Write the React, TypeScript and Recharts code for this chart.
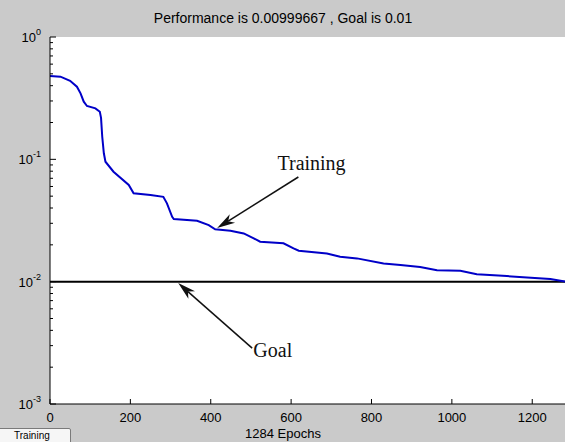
import React from 'react';
import { LineChart, Line, XAxis, YAxis, CartesianGrid, ReferenceLine, ReferenceDot } from 'recharts';

const titleText = 'Performance is 0.00999667 , Goal is 0.01';
const xLabelText = '1284 Epochs';
const seriesName = 'Training';
const goalName = 'Goal';
const goalValue = 0.01;
const totalEpochs = 1284;

const epochs = [0, 26, 50, 67, 76, 84, 92, 113, 124, 127, 130, 134, 138, 158, 196, 208, 250, 282, 291, 304, 308, 366, 395, 411, 449, 482, 507, 523, 581, 606, 619, 689, 722, 764, 830, 872, 921, 963, 1021, 1062, 1137, 1187, 1245, 1284];
const performance = [0.48, 0.474, 0.439, 0.392, 0.346, 0.296, 0.273, 0.261, 0.245, 0.218, 0.153, 0.112, 0.0956, 0.0792, 0.0617, 0.0527, 0.0511, 0.0494, 0.0437, 0.0339, 0.0325, 0.0315, 0.029, 0.0268, 0.0261, 0.0248, 0.0226, 0.0212, 0.0206, 0.0187, 0.0179, 0.017, 0.016, 0.0155, 0.0141, 0.0137, 0.0132, 0.0124, 0.0123, 0.0115, 0.0111, 0.0108, 0.0105, 0.00999667];

const xTicks = [0, 200, 400, 600, 800, 1000, 1200];
const yDecades = [-3, -2, -1];
const yMinorMultipliers = [1, 2, 3, 4, 5, 6, 7, 8, 9];
const yTicks: number[] = [];
yDecades.forEach((d) => yMinorMultipliers.forEach((m) => yTicks.push(parseFloat((m * Math.pow(10, d)).toPrecision(6)))));
yTicks.push(1);

// annotation anchors in data coordinates
const trainingArrow = [{ x: 618, y: 0.0717 }, { x: 416, y: 0.0274 }];
const goalArrow = [{ x: 503, y: 0.00286 }, { x: 319, y: 0.00975 }];
const trainingTextAt = { x: 566, y: 0.0817 };
const goalTextAt = { x: 506, y: 0.00242 };

const data = epochs.map((e, i) => ({ epoch: e, perf: performance[i] }));

const isMajor = (v: number) => {
  const l = Math.log10(v);
  return Math.abs(l - Math.round(l)) < 1e-6;
};

const YTickLeft = (props: any) => {
  const { x, y, payload } = props;
  const v = payload.value;
  const major = isMajor(v);
  const exp = Math.round(Math.log10(v));
  return (
    <g>
      <line x1={x} x2={x + (major ? 6 : 3)} y1={y} y2={y} stroke="#000" />
      {major && (
        <text x={x - 9} y={y + 5} textAnchor="end" fontSize={13} fill="#000" fontFamily="Liberation Sans, Arial, sans-serif">
          10<tspan dy={-7} fontSize={9}>{exp}</tspan>
        </text>
      )}
    </g>
  );
};

const YTickRight = (props: any) => {
  const { x, y, payload } = props;
  const major = isMajor(payload.value);
  return <line x1={x} x2={x - (major ? 6 : 3)} y1={y} y2={y} stroke="#000" />;
};

const XTickBottom = (props: any) => {
  const { x, y, payload } = props;
  return (
    <g>
      <line x1={x} x2={x} y1={y} y2={y - 5} stroke="#000" />
      <text x={x} y={y + 18} textAnchor="middle" fontSize={13} fill="#000" fontFamily="Liberation Sans, Arial, sans-serif">
        {payload.value}
      </text>
    </g>
  );
};

const XTickTop = (props: any) => {
  const { x, y } = props;
  return <line x1={x} x2={x} y1={y} y2={y + 5} stroke="#000" />;
};

const Arrow = (props: any) => {
  const { x1, y1, x2, y2 } = props;
  const dx = x2 - x1;
  const dy = y2 - y1;
  const len = Math.sqrt(dx * dx + dy * dy);
  const ux = dx / len;
  const uy = dy / len;
  const hl = 18;
  const hw = 5;
  const bx = x2 - ux * hl;
  const by = y2 - uy * hl;
  const nx = x2 - ux * (hl - 5);
  const ny = y2 - uy * (hl - 5);
  const p1 = `${x2},${y2}`;
  const p2 = `${bx - uy * hw},${by + ux * hw}`;
  const p3 = `${nx},${ny}`;
  const p4 = `${bx + uy * hw},${by - ux * hw}`;
  return (
    <g>
      <line x1={x1} y1={y1} x2={nx} y2={ny} stroke="#111" strokeWidth={1.5} />
      <polygon points={`${p1} ${p2} ${p3} ${p4}`} fill="#111" />
    </g>
  );
};

const labelShape = (text: string) => (props: any) => (
  <text x={props.cx} y={props.cy} fontSize={20} fill="#111" fontFamily="Liberation Serif, Times New Roman, serif">
    {text}
  </text>
);

export default function App() {
  return (
    <div
      style={{
        position: 'absolute',
        left: 0,
        top: 0,
        width: 565,
        height: 442,
        background: '#cacaca',
        overflow: 'hidden',
        fontFamily: 'Liberation Sans, Arial, sans-serif',
      }}
    >
      <div style={{ position: 'absolute', left: 0, top: 10, width: 566, textAlign: 'center', fontSize: 14, lineHeight: '16px', color: '#000' }}>
        {titleText}
      </div>
      <LineChart width={580} height={442} data={data} margin={{ top: 37, right: 14, bottom: 8, left: 0 }} style={{ position: 'absolute', left: 0, top: 0 }}>
        <CartesianGrid fill="#ffffff" horizontal={false} vertical={false} />
        <XAxis
          dataKey="epoch"
          type="number"
          domain={[0, totalEpochs]}
          allowDataOverflow
          ticks={xTicks}
          interval={0}
          height={30}
          tickSize={0}
          tickMargin={0}
          tickLine={false}
          axisLine={{ stroke: '#000' }}
          tick={XTickBottom}
        />
        <XAxis
          xAxisId="top"
          orientation="top"
          dataKey="epoch"
          type="number"
          domain={[0, totalEpochs]}
          allowDataOverflow
          ticks={xTicks}
          interval={0}
          height={0}
          tickSize={0}
          tickMargin={0}
          tickLine={false}
          axisLine={{ stroke: '#000' }}
          tick={XTickTop}
        />
        <YAxis
          type="number"
          scale="log"
          domain={[0.001, 1]}
          allowDataOverflow
          ticks={yTicks}
          interval={0}
          width={50}
          tickSize={0}
          tickMargin={0}
          tickLine={false}
          axisLine={{ stroke: '#000' }}
          tick={YTickLeft}
        />
        <YAxis
          yAxisId="right"
          orientation="right"
          type="number"
          scale="log"
          domain={[0.001, 1]}
          allowDataOverflow
          ticks={yTicks}
          interval={0}
          width={0}
          tickSize={0}
          tickMargin={0}
          tickLine={false}
          axisLine={{ stroke: '#000' }}
          tick={YTickRight}
        />
        <ReferenceLine y={goalValue} stroke="#000" strokeWidth={2} />
        <Line
          name={seriesName}
          dataKey="perf"
          type="linear"
          stroke="#0000c8"
          strokeWidth={2}
          dot={false}
          isAnimationActive={false}
        />
        <ReferenceLine segment={trainingArrow} shape={Arrow} ifOverflow="visible" />
        <ReferenceLine segment={goalArrow} shape={Arrow} ifOverflow="visible" />
        <ReferenceDot x={trainingTextAt.x} y={trainingTextAt.y} r={0} shape={labelShape(seriesName)} ifOverflow="visible" />
        <ReferenceDot x={goalTextAt.x} y={goalTextAt.y} r={0} shape={labelShape(goalName)} ifOverflow="visible" />
      </LineChart>
      <div style={{ position: 'absolute', left: 0, top: 426, width: 566, textAlign: 'center', fontSize: 13, lineHeight: '15px', color: '#000' }}>
        {xLabelText}
      </div>
      <div
        style={{
          position: 'absolute',
          left: -3,
          top: 428,
          width: 74,
          height: 16,
          background: '#f6f6f6',
          border: '1px solid #7a7a7a',
          borderRadius: 2,
          boxSizing: 'border-box',
          fontSize: 10,
          lineHeight: '13px',
          paddingLeft: 16,
          color: '#000',
        }}
      >
        {seriesName}
      </div>
    </div>
  );
}
